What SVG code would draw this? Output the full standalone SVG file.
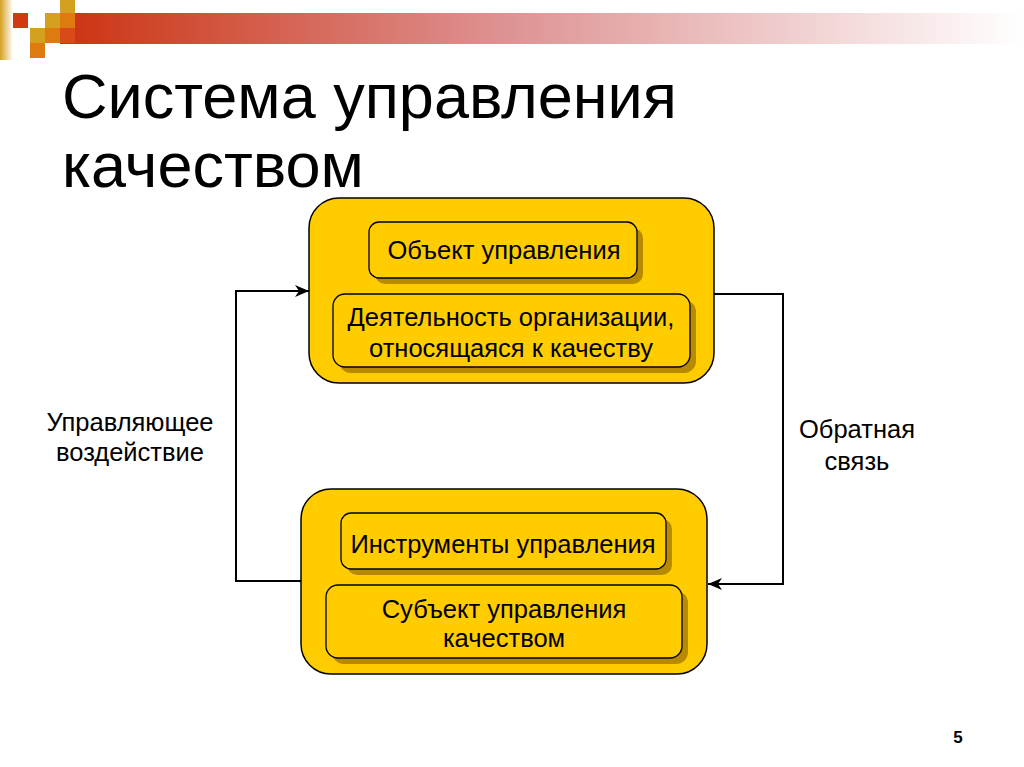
<svg xmlns="http://www.w3.org/2000/svg" width="1024" height="767" viewBox="0 0 1024 767">
<defs>
<linearGradient id="bar" x1="0" y1="0" x2="1" y2="0">
<stop offset="0" stop-color="#CC3311"/>
<stop offset="0.45" stop-color="#DD9090"/>
<stop offset="1" stop-color="#FFFFFF"/>
</linearGradient>
<linearGradient id="strip" x1="0" y1="0" x2="1" y2="0">
<stop offset="0" stop-color="#D4A020"/>
<stop offset="1" stop-color="#FFFFFF"/>
</linearGradient>
<marker id="arr" viewBox="0 0 14 12" refX="14" refY="6" markerWidth="14" markerHeight="12" markerUnits="userSpaceOnUse" orient="auto">
<path d="M0,0 L14,6 L0,12 L4,6 Z" fill="#000"/>
</marker>
</defs>
<style>
.outer{fill:#FFCC00;stroke:#000;stroke-width:1.5}
.inner{fill:#FFCC00;stroke:#000;stroke-width:1.3}
.shadow{fill:#B88A00}
.t{font-family:"Liberation Sans",Arial,sans-serif;font-size:25.5px;fill:#000;text-anchor:middle}
.title{font-family:"Liberation Sans",Arial,sans-serif;font-size:63px;fill:#000}
.conn{fill:none;stroke:#000;stroke-width:2}
</style>
<rect width="1024" height="767" fill="#FFFFFF"/>
<g id="header">
<rect x="60" y="13" width="964" height="31" fill="url(#bar)"/>
<rect x="0" y="0" width="13" height="60" fill="url(#strip)"/>
<rect x="13" y="13" width="15" height="15" fill="#D03A10"/>
<rect x="60" y="0" width="15" height="13" fill="#D4A020"/>
<rect x="45" y="13" width="15" height="15" fill="#D4A020"/>
<rect x="60" y="13" width="15" height="15" fill="#DD7A10"/>
<rect x="30" y="28" width="15" height="15" fill="#D4A020"/>
<rect x="45" y="28" width="15" height="15" fill="#DD7A10"/>
<rect x="60" y="28" width="15" height="15" fill="#D84A18"/>
<rect x="30" y="43" width="15" height="15" fill="#DD7A10"/>
</g>
<g id="title">
<text class="title" x="62" y="118">Система управления</text>
<text class="title" x="62" y="187">качеством</text>
</g>
<g id="connectors">
<polyline class="conn" points="301,581 236,581 236,291 309,291" marker-end="url(#arr)"/>
<polyline class="conn" points="714,294 783,294 783,584 708,584" marker-end="url(#arr)"/>
</g>
<g id="top-box">
<rect class="outer" x="309" y="198" width="405" height="185" rx="30"/>
<g id="object">
<rect class="shadow" x="375" y="228" width="268" height="56" rx="10"/>
<rect class="inner" x="369" y="222" width="268" height="56" rx="10"/>
<text class="t" x="504" y="259">Объект управления</text>
</g>
<g id="activity">
<rect class="shadow" x="339" y="300" width="357" height="73" rx="12"/>
<rect class="inner" x="333" y="294" width="357" height="73" rx="12"/>
<text class="t" x="511" y="326">Деятельность организации,</text>
<text class="t" x="511" y="357">относящаяся к качеству</text>
</g>
</g>
<g id="bottom-box">
<rect class="outer" x="301" y="489" width="406" height="185" rx="30"/>
<g id="tools">
<rect class="shadow" x="347" y="519" width="325" height="56" rx="10"/>
<rect class="inner" x="341" y="513" width="325" height="56" rx="10"/>
<text class="t" x="503" y="553">Инструменты управления</text>
</g>
<g id="subject">
<rect class="shadow" x="332" y="591" width="356" height="73" rx="12"/>
<rect class="inner" x="326" y="585" width="356" height="73" rx="12"/>
<text class="t" x="504" y="618">Субъект управления</text>
<text class="t" x="504" y="647">качеством</text>
</g>
</g>
<g id="label-left">
<text class="t" x="130" y="431">Управляющее</text>
<text class="t" x="130" y="461">воздействие</text>
</g>
<g id="label-right">
<text class="t" x="857" y="438">Обратная</text>
<text class="t" x="857" y="470">связь</text>
</g>
<text x="958" y="743" font-family="Liberation Sans,Arial,sans-serif" font-size="17" font-weight="bold" text-anchor="middle">5</text>
</svg>
